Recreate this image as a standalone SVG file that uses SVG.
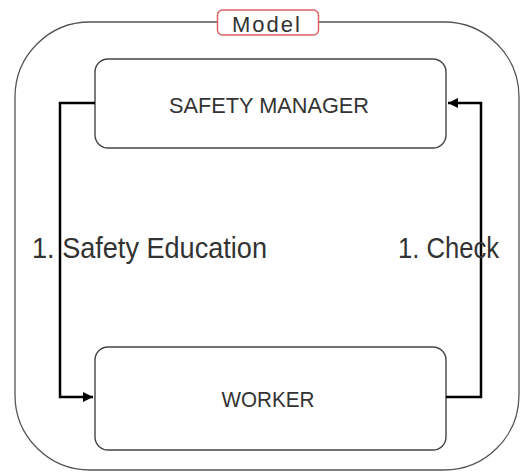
<svg xmlns="http://www.w3.org/2000/svg" width="521" height="472" viewBox="0 0 521 472">
<style>
.frame{fill:none;stroke:#555;stroke-width:1.3}
.box{fill:#fff;stroke:#444;stroke-width:1.4}
.lbl{font-family:"Liberation Sans",Arial,sans-serif;fill:#333}
.conn{fill:none;stroke:#000;stroke-width:2.5}
</style>
<defs>
<marker id="arr" viewBox="0 0 10 10" refX="10" refY="5" markerWidth="4" markerHeight="4" orient="auto" markerUnits="strokeWidth">
<path d="M0,0 L10,5 L0,10 z" fill="#000"/>
</marker>
</defs>
<rect width="521" height="472" fill="#fff"/>
<g id="model">
<rect class="frame" x="15" y="22" width="504" height="448" rx="75" ry="75"/>
<rect x="217.5" y="10" width="101" height="25" rx="5" fill="#fff" stroke="#e06060" stroke-width="1.5"/>
<text class="lbl" x="266" y="31.5" font-size="22" text-anchor="middle" textLength="68" lengthAdjust="spacing">Model</text>
</g>
<g id="safety-manager">
<rect class="box" x="95" y="59" width="351" height="89" rx="13"/>
<text class="lbl" x="269" y="113" font-size="22" text-anchor="middle" textLength="200" lengthAdjust="spacingAndGlyphs">SAFETY MANAGER</text>
</g>
<g id="worker">
<rect class="box" x="95" y="347" width="351" height="103" rx="13"/>
<text class="lbl" x="268" y="407" font-size="22" text-anchor="middle" textLength="93" lengthAdjust="spacingAndGlyphs">WORKER</text>
</g>
<g id="connectors">
<polyline class="conn" points="95,103 60,103 60,397 93,397" marker-end="url(#arr)"/>
<polyline class="conn" points="446,397 481,397 481,103 448,103" marker-end="url(#arr)"/>
<text class="lbl" x="32" y="258" font-size="29" textLength="235" lengthAdjust="spacingAndGlyphs">1. Safety Education</text>
<text class="lbl" x="398" y="258" font-size="29" textLength="101" lengthAdjust="spacingAndGlyphs">1. Check</text>
</g>
</svg>
